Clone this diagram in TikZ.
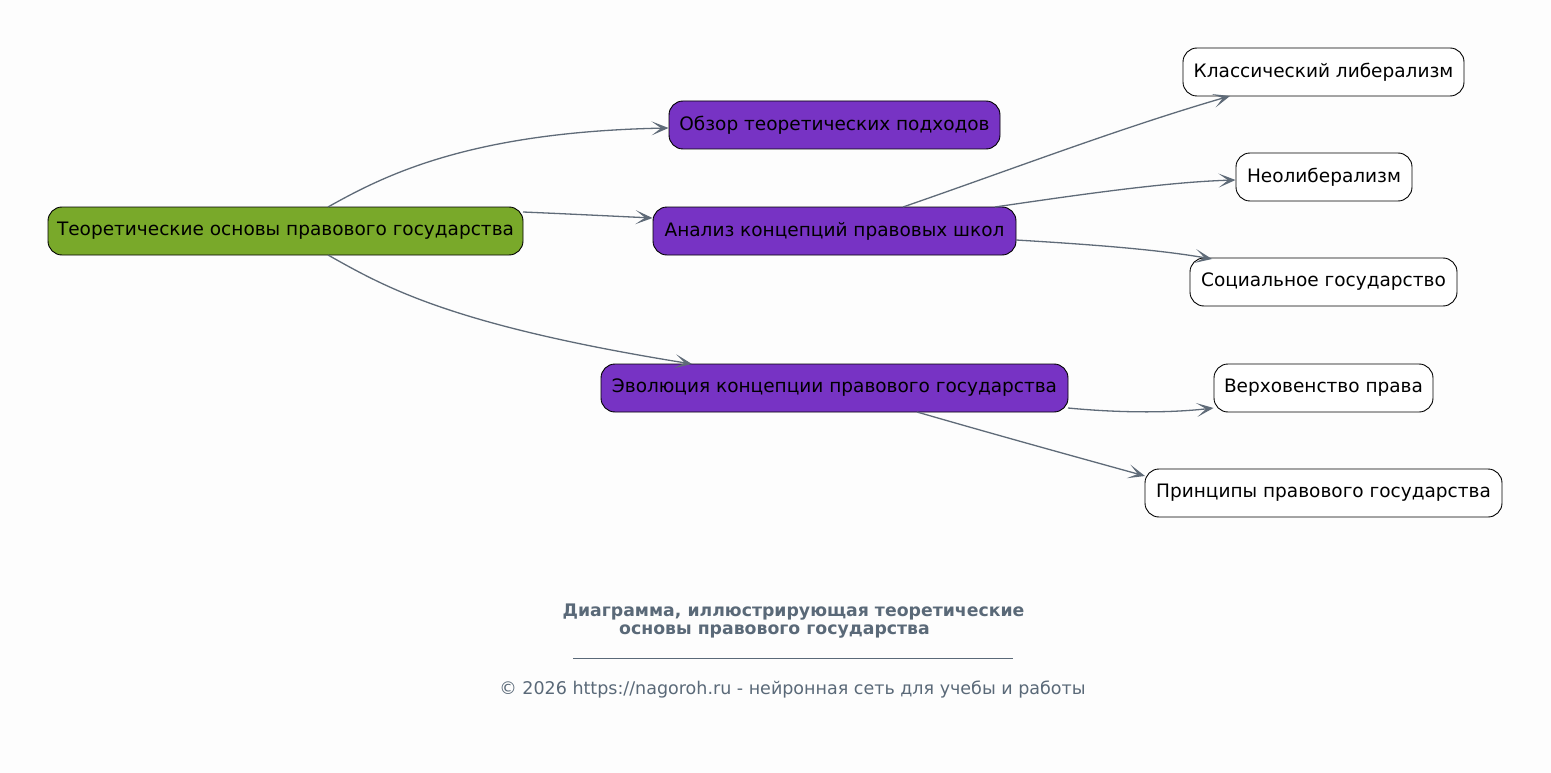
\documentclass[tikz,border=0pt]{standalone}
\usepackage{fontspec}
\setmainfont{DejaVu Sans}
\usetikzlibrary{arrows.meta}
\definecolor{bgc}{HTML}{FDFDFD}
\definecolor{rootc}{HTML}{79A92A}
\definecolor{midc}{HTML}{7733C4}
\definecolor{edgec}{HTML}{5F6B78}
\definecolor{titlec}{HTML}{5A6978}
\tikzset{
  box/.style={draw=black, line width=0.9pt, rounded corners=14pt, minimum height=48pt,
    inner sep=0pt, align=center, font=\fontsize{18.5}{22}\selectfont, text=black},
  rootbox/.style={box, fill=rootc},
  midbox/.style={box, fill=midc},
  leafbox/.style={box, fill=white},
  conn/.style={draw=edgec, line width=1.3pt, -{Stealth[length=17pt, width=14pt, inset=9.5pt]}},
}
\begin{document}
\begin{tikzpicture}[x=1pt, y=-1pt]
\useasboundingbox[fill=bgc] (0,0) rectangle (1551,773);
\node[rootbox, minimum width=475pt] (root) at (285.5,231) {Теоретические основы правового государства};
\node[midbox, minimum width=331pt] (obz) at (834.5,125) {Обзор теоретических подходов};
\node[midbox, minimum width=363pt] (anl) at (834.5,231) {Анализ концепций правовых школ};
\node[midbox, minimum width=467pt] (evo) at (834.5,388) {Эволюция концепции правового государства};
\node[leafbox, minimum width=281pt] (kl) at (1323.5,72) {Классический либерализм};
\node[leafbox, minimum width=176pt] (neo) at (1324,177) {Неолиберализм};
\node[leafbox, minimum width=267pt] (soc) at (1323.5,282) {Социальное государство};
\node[leafbox, minimum width=219pt] (ver) at (1323.5,388) {Верховенство права};
\node[leafbox, minimum width=357pt] (pri) at (1323.5,493) {Принципы правового государства};

\coordinate (r1) at (328,207);
\coordinate (r2) at (523,212);
\coordinate (r3) at (328,255);
\coordinate (a1) at (903,207);
\coordinate (a2) at (995,207);
\coordinate (a3) at (1016,240);
\coordinate (e1) at (1068,408);
\coordinate (e2) at (917,412);

\draw[conn] (r1) .. controls (385,175) and (470,132) .. (obz.west |- 0,128);
\draw[conn] (r2) .. controls (570,214) and (610,216) .. (anl.west |- 0,218);
\draw[conn] (r3) .. controls (385,287) and (450,325) .. (692,364);
\draw[conn] (a1) .. controls (1010,170) and (1120,128) .. (1230,96);
\draw[conn] (a2) .. controls (1090,193) and (1170,182) .. (neo.west |- 0,180);
\draw[conn] (a3) .. controls (1100,245) and (1160,250) .. (1212,259);
\draw[conn] (e1) .. controls (1120,413) and (1170,413) .. (ver.west |- 0,408);
\draw[conn] (e2) .. controls (1000,436) and (1080,458) .. (1145,476);

\node[font=\fontsize{17.3}{18.5}\selectfont\bfseries, text=titlec, align=center] (title) at (793.5,621)
  {Диаграмма, иллюстрирующая теоретические\\основы правового государства\hspace*{2.2em}};
\draw[draw=titlec, line width=0.6pt] (573,658) -- (1013,658);
\node[font=\fontsize{17.5}{20}\selectfont, text=titlec] (foot) at (792.5,690)
  {© 2026 https://nagoroh.ru - нейронная сеть для учебы и работы};
\end{tikzpicture}
\end{document}
